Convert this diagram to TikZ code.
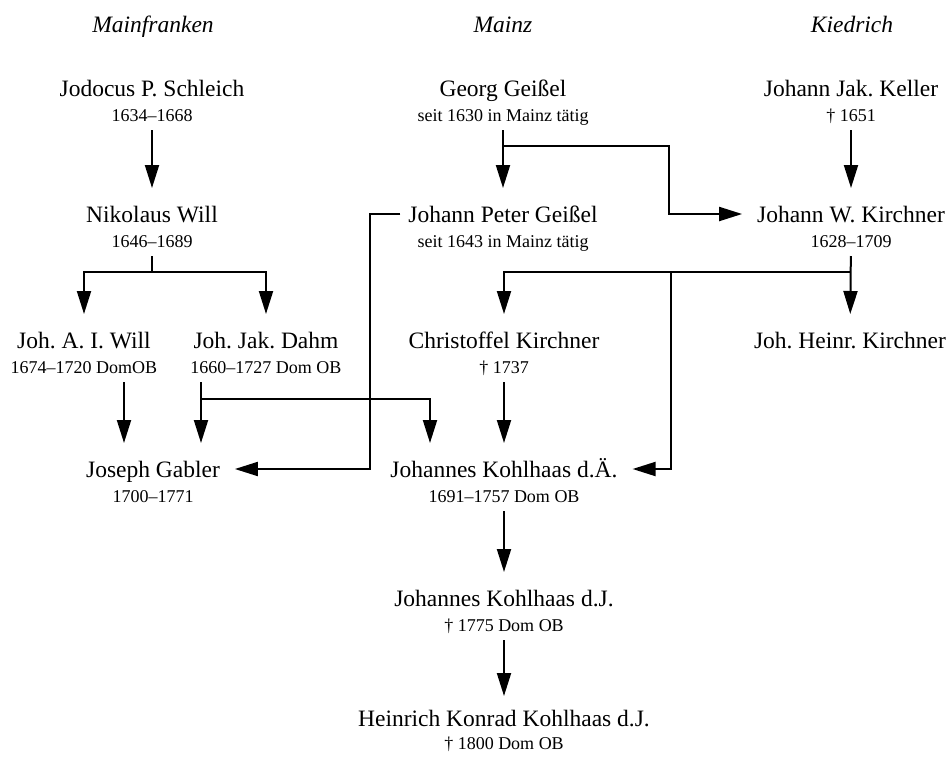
\documentclass[tikz,border=0pt]{standalone}
\usepackage{fontspec}
\setmainfont{Liberation Serif}
\frenchspacing
\usetikzlibrary{arrows.meta, positioning}
\tikzstyle{person}=[text height=16pt, text depth=0pt, inner xsep=14pt, inner ysep=17pt, font=\fontsize{23.5}{26}\selectfont]
\tikzstyle{dates}=[text height=12pt, text depth=0pt, inner xsep=2pt, inner ysep=8pt, font=\fontsize{18}{20}\selectfont, node distance=27pt]
\tikzstyle{region}=[anchor=base, font=\fontsize{23.5}{26}\selectfont\itshape]

\begin{document}
\begin{tikzpicture}[x=1pt, y=-1pt, >={Triangle[length=23pt, width=14pt]}, line width=2pt]
  \useasboundingbox (0,0) rectangle (951,756);
  \node[region] (mainfranken) at (153,32) {Mainfranken};
  \node[region] (mainz) at (503,32) {Mainz};
  \node[region] (kiedrich) at (852,32) {Kiedrich};

  \node[person] (schleich) at (152,88) {Jodocus P. Schleich};
  \node[dates, below of=schleich] (schleichd) {1634--1668};
  \node[person] (ggeissel) at (503,88) {Georg Geißel};
  \node[dates, below of=ggeissel] (ggeisseld) {seit 1630 in Mainz tätig};
  \node[person] (keller) at (851,88) {Johann Jak. Keller};
  \node[dates, below of=keller] (kellerd) {† 1651};

  \node[person] (will) at (152,214) {Nikolaus Will};
  \node[dates, below of=will] (willd) {1646--1689};
  \node[person] (jpgeissel) at (503,214) {Johann Peter Geißel};
  \node[dates, below of=jpgeissel] (jpgeisseld) {seit 1643 in Mainz tätig};
  \node[person] (wkirchner) at (851,214) {Johann W. Kirchner};
  \node[dates, below of=wkirchner] (wkirchnerd) {1628--1709};

  \node[person] (aiwill) at (84,340) {Joh. A. I. Will};
  \node[dates, below of=aiwill] (aiwilld) {1674--1720 DomOB};
  \node[person] (dahm) at (266,340) {Joh. Jak. Dahm};
  \node[dates, below of=dahm] (dahmd) {1660--1727 Dom OB};
  \node[person] (ckirchner) at (504,340) {Christoffel Kirchner};
  \node[dates, below of=ckirchner] (ckirchnerd) {† 1737};
  \node[person] (hkirchner) at (850,340) {Joh. Heinr. Kirchner};

  \node[person] (gabler) at (153,469) {Joseph Gabler};
  \node[dates, below of=gabler] (gablerd) {1700--1771};
  \node[person] (kohlhaas) at (504,469) {Johannes Kohlhaas d.Ä.};
  \node[dates, below of=kohlhaas] (kohlhaasd) {1691--1757 Dom OB};

  \node[person] (kohlhaasj) at (504,598) {Johannes Kohlhaas d.J.};
  \node[dates, below of=kohlhaasj] (kohlhaasjd) {† 1775 Dom OB};
  \node[person] (heinrich) at (504,718) {Heinrich Konrad Kohlhaas d.J.};
  \node[dates, below of=heinrich, node distance=25pt] (heinrichd) {† 1800 Dom OB};

  \coordinate (kbranch) at (671,271);

  \draw[->] (schleichd) -- (will);
  \draw[->] (ggeisseld) -- (jpgeissel);
  \draw[->] (ggeisseld.south) ++(0,16) -| ([xshift=-73pt]wkirchner.west) -- (wkirchner.west);
  \draw[->] (kellerd) -- (wkirchner);
  \draw[->] (willd.south) -- ++(0,16) -| (aiwill.north);
  \draw[->] (willd.south) -- ++(0,16) -| (dahm.north);
  \draw[->] ([xshift=7pt]jpgeissel.west) -- ++(-30,0) |- (gabler.east);
  \draw[->] (wkirchnerd) -- (hkirchner);
  \draw[->] (wkirchnerd.south) ++(0,16) -| (ckirchner.north);
  \draw[->] (kbranch) |- (kohlhaas.east);
  \draw[->] ([xshift=40pt]aiwilld.south) -- ([xshift=-29pt]gabler.north);
  \draw[->] ([xshift=-65pt]dahmd.south) -- ([xshift=48pt]gabler.north);
  \draw[->] ([xshift=-65pt]dahmd.south) ++(0,17) -| ([xshift=-74pt]kohlhaas.north);
  \draw[->] (ckirchnerd) -- (kohlhaas);
  \draw[->] (kohlhaasd) -- (kohlhaasj);
  \draw[->] (kohlhaasjd.south) -- ([yshift=-4pt]heinrich.north);
\end{tikzpicture}
\end{document}
